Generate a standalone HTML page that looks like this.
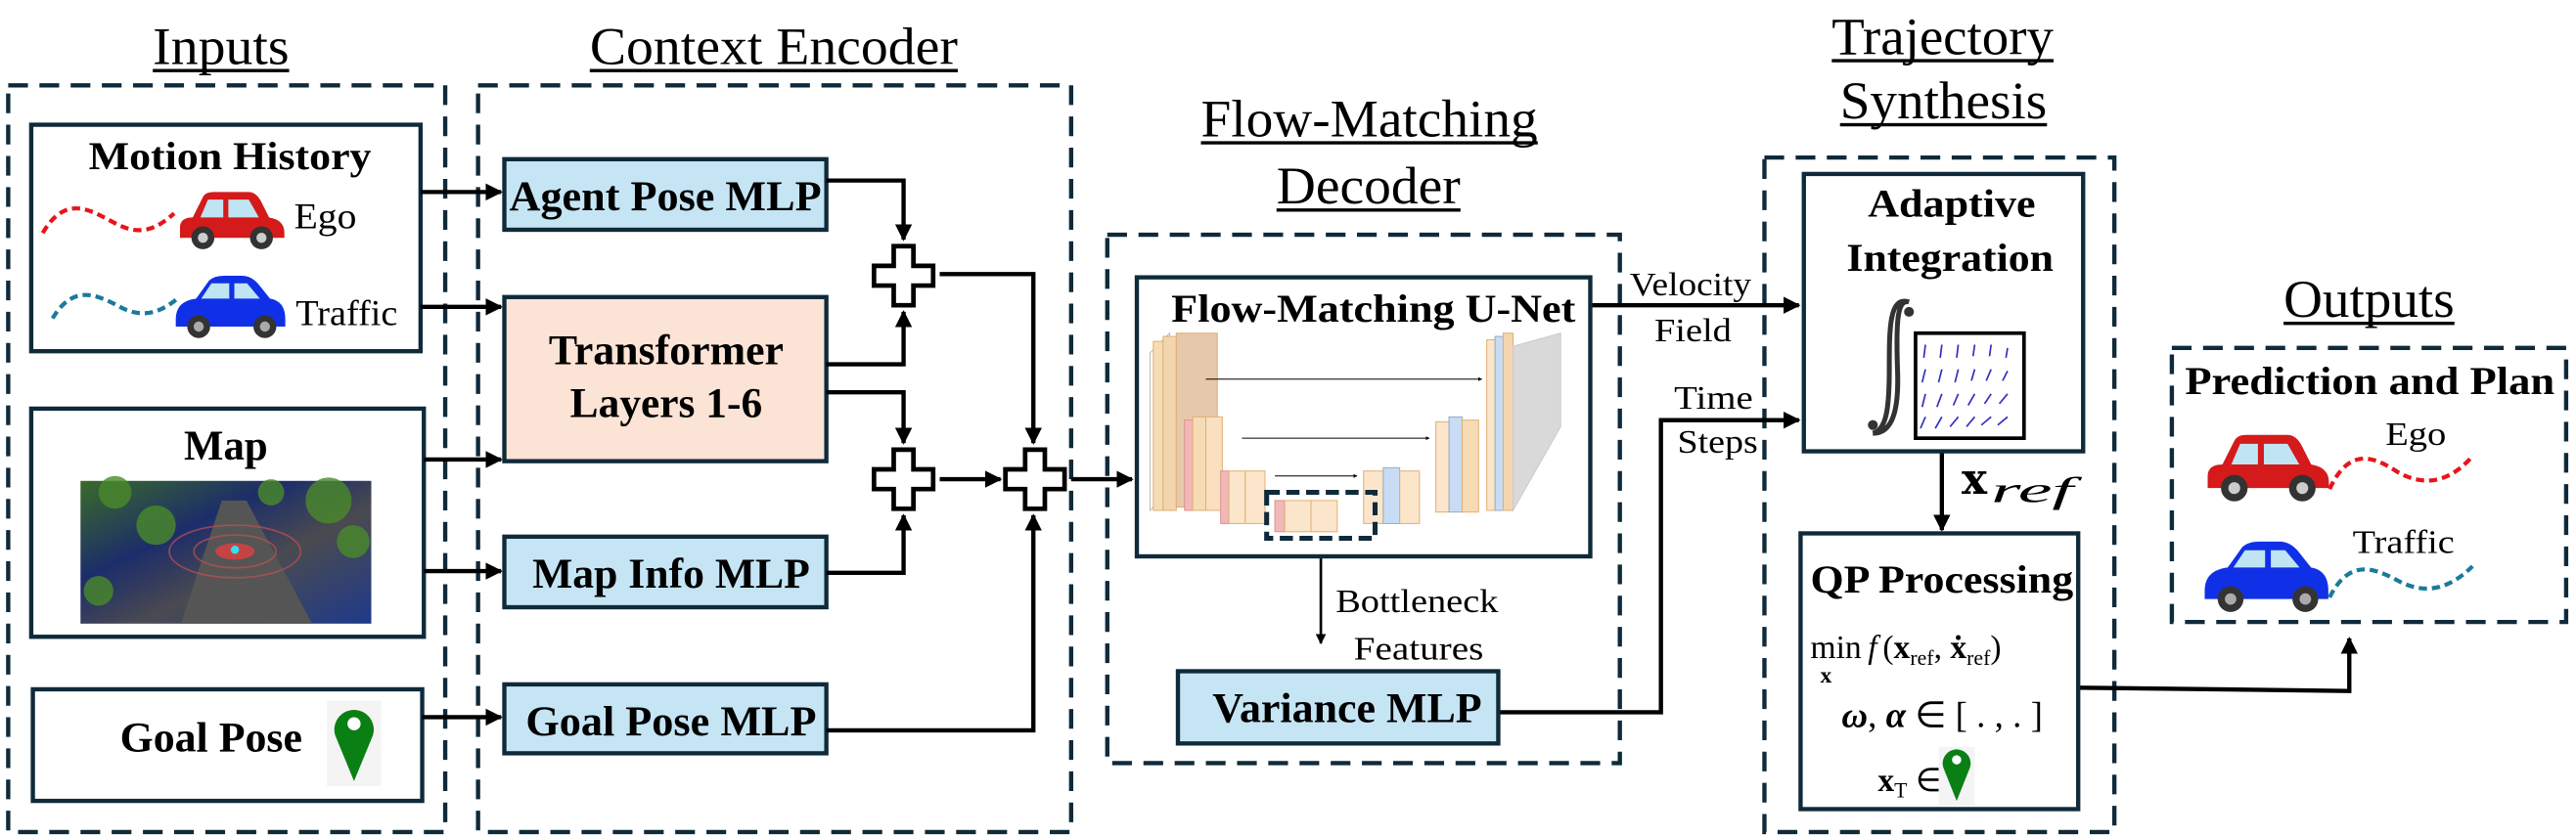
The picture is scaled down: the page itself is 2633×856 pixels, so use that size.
<!DOCTYPE html>
<html><head><meta charset="utf-8"><style>
html,body{margin:0;padding:0;background:#fff;}
svg{display:block;}
text{font-family:"Liberation Serif",serif;fill:#000;}
.b{font-weight:bold;}
</style></head><body>
<svg width="2633" height="856" viewBox="0 0 1568 510" preserveAspectRatio="none" xmlns="http://www.w3.org/2000/svg">
<defs>
<marker id="ah" viewBox="0 0 10 10" refX="9" refY="5" markerWidth="4" markerHeight="4" orient="auto-start-reverse" markerUnits="strokeWidth"><path d="M0,0 L10,5 L0,10 z" fill="#000"/></marker>
<linearGradient id="mapg" x1="0" y1="0" x2="1" y2="1">
<stop offset="0" stop-color="#3a6a2a"/><stop offset="0.35" stop-color="#1c2d6a"/><stop offset="0.6" stop-color="#4a4a50"/><stop offset="1" stop-color="#1e3a8a"/></linearGradient>
</defs>

<!-- Titles -->
<g font-size="32">
<text x="93" y="39" textLength="83" lengthAdjust="spacingAndGlyphs">Inputs</text>
<line x1="93" y1="43" x2="176" y2="43" stroke="#000" stroke-width="2"/>
<text x="359" y="39" textLength="224" lengthAdjust="spacingAndGlyphs">Context Encoder</text>
<line x1="359" y1="43" x2="583" y2="43" stroke="#000" stroke-width="2"/>
<text x="731" y="83" textLength="205" lengthAdjust="spacingAndGlyphs">Flow-Matching</text>
<line x1="731" y1="87" x2="936" y2="87" stroke="#000" stroke-width="2"/>
<text x="777" y="124" textLength="112" lengthAdjust="spacingAndGlyphs">Decoder</text>
<line x1="777" y1="128" x2="889" y2="128" stroke="#000" stroke-width="2"/>
<text x="1115" y="33" textLength="135" lengthAdjust="spacingAndGlyphs">Trajectory</text>
<line x1="1115" y1="37" x2="1250" y2="37" stroke="#000" stroke-width="2"/>
<text x="1120" y="72" textLength="126" lengthAdjust="spacingAndGlyphs">Synthesis</text>
<line x1="1120" y1="76" x2="1246" y2="76" stroke="#000" stroke-width="2"/>
<text x="1390" y="193" textLength="104" lengthAdjust="spacingAndGlyphs">Outputs</text>
<line x1="1390" y1="197" x2="1494" y2="197" stroke="#000" stroke-width="2"/>
</g>

<!-- Dashed containers -->
<g fill="none" stroke="#0f2a3a" stroke-width="2.6" stroke-dasharray="12,7">
<rect x="5" y="52" width="266" height="455"/>
<rect x="291" y="52" width="361" height="455"/>
<rect x="674" y="143" width="312" height="322"/>
<rect x="1074" y="96" width="213" height="411"/>
<rect x="1322" y="212" width="240" height="167"/>
</g>

<!-- Inputs boxes -->
<g fill="#fff" stroke="#0f2a3a" stroke-width="2.6">
<rect x="19" y="76" width="237" height="138"/>
<rect x="19" y="249" width="239" height="139"/>
<rect x="20" y="420" width="237" height="68"/>
</g>
<text class="b" x="54" y="103" font-size="24" textLength="172" lengthAdjust="spacingAndGlyphs">Motion History</text>
<text x="179" y="139" font-size="22" textLength="38" lengthAdjust="spacingAndGlyphs">Ego</text>
<text x="180" y="198" font-size="22" textLength="62" lengthAdjust="spacingAndGlyphs">Traffic</text>
<path d="M26,142 C40,118 55,128 70,136 C85,144 95,140 106,130" fill="none" stroke="#e8141a" stroke-width="2.5" stroke-dasharray="5,3"/>
<path d="M32,194 C45,172 60,180 75,188 C88,194 98,190 108,182" fill="none" stroke="#1a7a9a" stroke-width="2.5" stroke-dasharray="5,3"/>
<!-- red car -->
<g transform="translate(108,117) scale(1.55)">
<path d="M1,14 Q1,10 6,10 L10,2 Q11,0 14,0 L28,0 Q31,0 33,4 L36,10 Q42,11 42,16 L42,18 L1,18 Z" fill="#d41a1a"/>
<path d="M12,3 L18,3 L18,10 L9,10 Z M20,3 L28,3 L32,10 L20,10 Z" fill="#bfe4f2"/>
<circle cx="10" cy="18" r="4.5" fill="#333"/><circle cx="10" cy="18" r="2" fill="#ccc"/>
<circle cx="33" cy="18" r="4.5" fill="#333"/><circle cx="33" cy="18" r="2" fill="#ccc"/>
</g>
<!-- blue car -->
<g transform="translate(107,168) scale(1.55)">
<path d="M0,17 Q0,10 8,9 L13,2 Q15,0 19,0 L26,0 Q30,0 33,4 L37,9 Q43,10 43,17 L43,20 L0,20 Z" fill="#1030e8"/>
<path d="M14,3 L21,3 L21,9 L10,9 Z M23,3 L28,3 L33,9 L23,9 Z" fill="#bfe4f2"/>
<circle cx="9" cy="20" r="4.5" fill="#333"/><circle cx="9" cy="20" r="2" fill="#aaa"/>
<circle cx="35" cy="20" r="4.5" fill="#333"/><circle cx="35" cy="20" r="2" fill="#aaa"/>
</g>
<text class="b" x="112" y="280" font-size="26" textLength="51" lengthAdjust="spacingAndGlyphs">Map</text>
<rect x="49" y="293" width="177" height="87" fill="url(#mapg)"/>
<path d="M110,380 L135,305 L150,305 L190,380 Z" fill="#555"/>
<g fill="#4a8a2a" opacity="0.8"><circle cx="70" cy="300" r="10"/><circle cx="95" cy="320" r="12"/><circle cx="200" cy="305" r="14"/><circle cx="215" cy="330" r="10"/><circle cx="60" cy="360" r="9"/><circle cx="165" cy="300" r="8"/></g>
<g fill="none" stroke="#c05050" stroke-width="1" opacity="0.7"><ellipse cx="143" cy="336" rx="25" ry="10"/><ellipse cx="143" cy="336" rx="40" ry="16"/></g>
<ellipse cx="143" cy="336" rx="12" ry="5" fill="#e04040" opacity="0.8"/>
<circle cx="143" cy="335" r="2.5" fill="#30e0f0"/>
<text class="b" x="73" y="458" font-size="26" textLength="111" lengthAdjust="spacingAndGlyphs">Goal Pose</text>
<rect x="199" y="427" width="33" height="52" fill="#f4f4f4"/>
<path d="M215.5,476 L204,448 A12,12 0 1 1 227,448 Z" fill="#0a7f14"/>
<circle cx="215.5" cy="441" r="4" fill="#fff"/>

<!-- Context encoder boxes -->
<g stroke="#0f2a3a" stroke-width="2.6">
<rect x="307" y="97" width="196" height="43" fill="#c5e5f5"/>
<rect x="307" y="181" width="196" height="100" fill="#fbe3d6"/>
<rect x="307" y="327" width="196" height="43" fill="#c5e5f5"/>
<rect x="307" y="417" width="196" height="42" fill="#c5e5f5"/>
</g>
<g class="b" font-size="26">
<text class="b" x="310" y="128" textLength="190" lengthAdjust="spacingAndGlyphs">Agent Pose MLP</text>
<text class="b" x="334" y="222" textLength="143" lengthAdjust="spacingAndGlyphs">Transformer</text>
<text class="b" x="347" y="254" textLength="117" lengthAdjust="spacingAndGlyphs">Layers 1-6</text>
<text class="b" x="324" y="358" textLength="169" lengthAdjust="spacingAndGlyphs">Map Info MLP</text>
<text class="b" x="320" y="448" textLength="177" lengthAdjust="spacingAndGlyphs">Goal Pose MLP</text>
</g>

<!-- plus signs (center cx,cy; half 18, arm 6) -->
<g fill="#fff" stroke="#000" stroke-width="2.8">
<path d="M544,150 h12 v12 h12 v12 h-12 v12 h-12 v-12 h-12 v-12 h12 z"/>
<path d="M544,274 h12 v12 h12 v12 h-12 v12 h-12 v-12 h-12 v-12 h12 z"/>
<path d="M624,274 h12 v12 h12 v12 h-12 v12 h-12 v-12 h-12 v-12 h12 z"/>
</g>

<!-- arrows -->
<g fill="none" stroke="#000" stroke-width="2.6" marker-end="url(#ah)">
<path d="M256,117 H305"/>
<path d="M256,187 H305"/>
<path d="M258,280 H305"/>
<path d="M258,348 H305"/>
<path d="M257,437 H305"/>
<path d="M503,110 H550 V146"/>
<path d="M503,222 H550 V190"/>
<path d="M503,239 H550 V270"/>
<path d="M503,349 H550 V314"/>
<path d="M572,167 H629 V270"/>
<path d="M572,292 H609"/>
<path d="M503,445 H629 V314"/>
<path d="M652,292 H689"/>
<path d="M968,186 H1095"/>
<path d="M912,434 H1011 V256 H1095"/>
<path d="M1182,275 H1182 V323"/>
<path d="M1265,419 L1430,421 V389"/>
</g>
<path d="M804,328 V392" stroke="#000" stroke-width="1.6" fill="none" marker-end="url(#ah)"/>

<!-- Decoder -->
<rect x="692" y="169" width="276" height="170" fill="#fff" stroke="#0f2a3a" stroke-width="2.6"/>
<text class="b" x="713" y="196" font-size="24" textLength="246" lengthAdjust="spacingAndGlyphs">Flow-Matching U-Net</text>
<g stroke="#e0b070" stroke-width="0.6">
<path d="M700,215 L712,203 L712,300 L700,311 Z" fill="#fff" stroke="#bbb"/>
<rect x="702" y="208" width="6" height="103" fill="#f6dcb4"/>
<rect x="708" y="205" width="8" height="106" fill="#f3d6b0"/>
<rect x="716" y="203" width="25" height="106" fill="#e6c9aa"/>
<rect x="721" y="256" width="5" height="55" fill="#f2b8b8" stroke="#e09090"/>
<rect x="726" y="254" width="8" height="57" fill="#f6dcb4"/>
<rect x="734" y="254" width="10" height="57" fill="#f8e0c0"/>
<rect x="743" y="287" width="5" height="32" fill="#f2b8b8" stroke="#e09090"/>
<rect x="748" y="287" width="10" height="32" fill="#fbe6cc"/>
<rect x="758" y="287" width="12" height="32" fill="#fbe6cc"/>
<rect x="776" y="305" width="6" height="19" fill="#f2b8b8" stroke="#e09090"/>
<rect x="782" y="305" width="16" height="19" fill="#fbe6cc"/>
<rect x="798" y="305" width="16" height="19" fill="#fbe6cc"/>
<rect x="830" y="287" width="12" height="32" fill="#fbe6cc"/>
<rect x="842" y="285" width="10" height="34" fill="#c8dcf5" stroke="#9ab"/>
<rect x="852" y="287" width="12" height="32" fill="#fbe6cc"/>
<rect x="874" y="257" width="8" height="55" fill="#fbe6cc"/>
<rect x="882" y="254" width="8" height="58" fill="#c8dcf5" stroke="#9ab"/>
<rect x="890" y="256" width="10" height="56" fill="#f6dcb4"/>
<rect x="905" y="207" width="5" height="104" fill="#fbe6cc"/>
<rect x="910" y="205" width="5" height="106" fill="#c8dcf5" stroke="#9ab"/>
<rect x="915" y="203" width="6" height="108" fill="#f3d6b0"/>
<path d="M921,211 L950,203 L950,260 L921,311 Z" fill="#d9d9d9" stroke="#ccc"/>
</g>
<g stroke="#000" stroke-width="0.6" marker-end="url(#ah)">
<line x1="734" y1="231" x2="902" y2="231"/>
<line x1="756" y1="267" x2="870" y2="267"/>
<line x1="776" y1="290" x2="826" y2="290"/>
</g>
<rect x="771" y="300" width="66" height="28" fill="none" stroke="#0f2a3a" stroke-width="3" stroke-dasharray="8,4"/>
<g font-size="20">
<text x="813" y="373" textLength="99" lengthAdjust="spacingAndGlyphs">Bottleneck</text>
<text x="824" y="402" textLength="79" lengthAdjust="spacingAndGlyphs">Features</text>
<text x="992" y="180" textLength="74" lengthAdjust="spacingAndGlyphs">Velocity</text>
<text x="1007" y="208" textLength="47" lengthAdjust="spacingAndGlyphs">Field</text>
<text x="1019" y="249" textLength="48" lengthAdjust="spacingAndGlyphs">Time</text>
<text x="1021" y="276" textLength="49" lengthAdjust="spacingAndGlyphs">Steps</text>
</g>
<rect x="717" y="409" width="195" height="44" fill="#c5e5f5" stroke="#0f2a3a" stroke-width="2.6"/>
<text class="b" x="738" y="440" font-size="26" textLength="164" lengthAdjust="spacingAndGlyphs">Variance MLP</text>

<!-- Trajectory synthesis -->
<g fill="#fff" stroke="#0f2a3a" stroke-width="2.6">
<rect x="1098" y="106" width="170" height="169"/>
<rect x="1096" y="325" width="169" height="168"/>
</g>
<text class="b" x="1137" y="132" font-size="24" textLength="102" lengthAdjust="spacingAndGlyphs">Adaptive</text>
<text class="b" x="1124" y="165" font-size="24" textLength="126" lengthAdjust="spacingAndGlyphs">Integration</text>
<path d="M1162,184 C1150,180 1150,200 1150,225 C1150,250 1148,262 1140,264 M1162,184 C1155,182 1154,195 1155,225 C1156,250 1152,264 1140,264" fill="none" stroke="#333" stroke-width="3"/>
<circle cx="1162" cy="190" r="3" fill="#333"/>
<circle cx="1140" cy="259" r="3" fill="#333"/>
<rect x="1166" y="203" width="66" height="64" fill="#fff" stroke="#000" stroke-width="2.2"/>
<g stroke="#3030c0" stroke-width="1">
<path d="M1172,210 l-1,8 M1182,210 l-1,8 M1192,210 l-1,8 M1202,210 l-1,7 M1212,210 l-1,7 M1222,212 l-1,6
M1172,225 l-2,8 M1182,225 l-2,8 M1192,225 l-2,8 M1202,225 l-2,7 M1212,225 l-3,7 M1222,226 l-3,6
M1172,240 l-2,8 M1182,240 l-3,8 M1192,240 l-3,7 M1202,240 l-4,7 M1212,240 l-4,6 M1222,240 l-5,6
M1172,254 l-3,7 M1182,254 l-4,7 M1192,254 l-5,6 M1202,254 l-5,6 M1212,254 l-6,5 M1222,254 l-6,5"/>
</g>
<text x="1194" y="301" font-size="26" class="b" style="font-family:'DejaVu Serif',serif">x</text>
<text x="1212" y="306" font-size="22" font-style="italic" textLength="50" lengthAdjust="spacingAndGlyphs">ref</text>
<text class="b" x="1102" y="361" font-size="24" textLength="160" lengthAdjust="spacingAndGlyphs">QP Processing</text>
<text x="1102" y="401" font-size="20">min</text>
<text x="1108" y="416" font-size="14" font-weight="bold">x</text>
<text x="1137" y="401" font-size="20" font-style="italic">f</text>
<text x="1146" y="401" font-size="20">(<tspan font-weight="bold">x</tspan><tspan font-size="13" dy="4">ref</tspan><tspan dy="-4">, </tspan><tspan font-weight="bold">ẋ</tspan><tspan font-size="13" dy="4">ref</tspan><tspan dy="-4">)</tspan></text>
<text x="1121" y="443" font-size="22"><tspan font-weight="bold" font-style="italic">ω</tspan>, <tspan font-weight="bold" font-style="italic">α</tspan> ∈ [ . , . ]</text>
<text x="1143" y="482" font-size="20" font-weight="bold">x<tspan font-size="13" dy="4" font-weight="normal">T</tspan><tspan dy="-4" font-weight="normal"> ∈</tspan></text>
<rect x="1180" y="455" width="22" height="36" fill="#f4f4f4"/>
<path d="M1191,488 L1183,468 A8.5,8.5 0 1 1 1199,468 Z" fill="#0a7f14"/>
<circle cx="1191" cy="463" r="2.8" fill="#fff"/>

<!-- Outputs -->
<text class="b" x="1330" y="240" font-size="24" textLength="225" lengthAdjust="spacingAndGlyphs">Prediction and Plan</text>
<text x="1452" y="271" font-size="20" textLength="37" lengthAdjust="spacingAndGlyphs">Ego</text>
<text x="1432" y="337" font-size="20" textLength="62" lengthAdjust="spacingAndGlyphs">Traffic</text>
<path d="M1418,298 C1430,272 1445,278 1460,288 C1475,296 1490,295 1505,278" fill="none" stroke="#e8141a" stroke-width="2.5" stroke-dasharray="5,3"/>
<path d="M1418,364 C1430,340 1445,346 1460,354 C1475,362 1490,360 1505,345" fill="none" stroke="#1a7a9a" stroke-width="2.5" stroke-dasharray="5,3"/>
<g transform="translate(1342,265) scale(1.8)">
<path d="M1,14 Q1,10 6,10 L10,2 Q11,0 14,0 L28,0 Q31,0 33,4 L36,10 Q42,11 42,16 L42,18 L1,18 Z" fill="#d41a1a"/>
<path d="M12,3 L18,3 L18,10 L9,10 Z M20,3 L28,3 L32,10 L20,10 Z" fill="#bfe4f2"/>
<circle cx="10" cy="18" r="4.5" fill="#333"/><circle cx="10" cy="18" r="2" fill="#ccc"/>
<circle cx="33" cy="18" r="4.5" fill="#333"/><circle cx="33" cy="18" r="2" fill="#ccc"/>
</g>
<g transform="translate(1342,330) scale(1.75)">
<path d="M0,17 Q0,10 8,9 L13,2 Q15,0 19,0 L26,0 Q30,0 33,4 L37,9 Q43,10 43,17 L43,20 L0,20 Z" fill="#1030e8"/>
<path d="M14,3 L21,3 L21,9 L10,9 Z M23,3 L28,3 L33,9 L23,9 Z" fill="#bfe4f2"/>
<circle cx="9" cy="20" r="4.5" fill="#333"/><circle cx="9" cy="20" r="2" fill="#aaa"/>
<circle cx="35" cy="20" r="4.5" fill="#333"/><circle cx="35" cy="20" r="2" fill="#aaa"/>
</g>
</svg>
</body></html>
